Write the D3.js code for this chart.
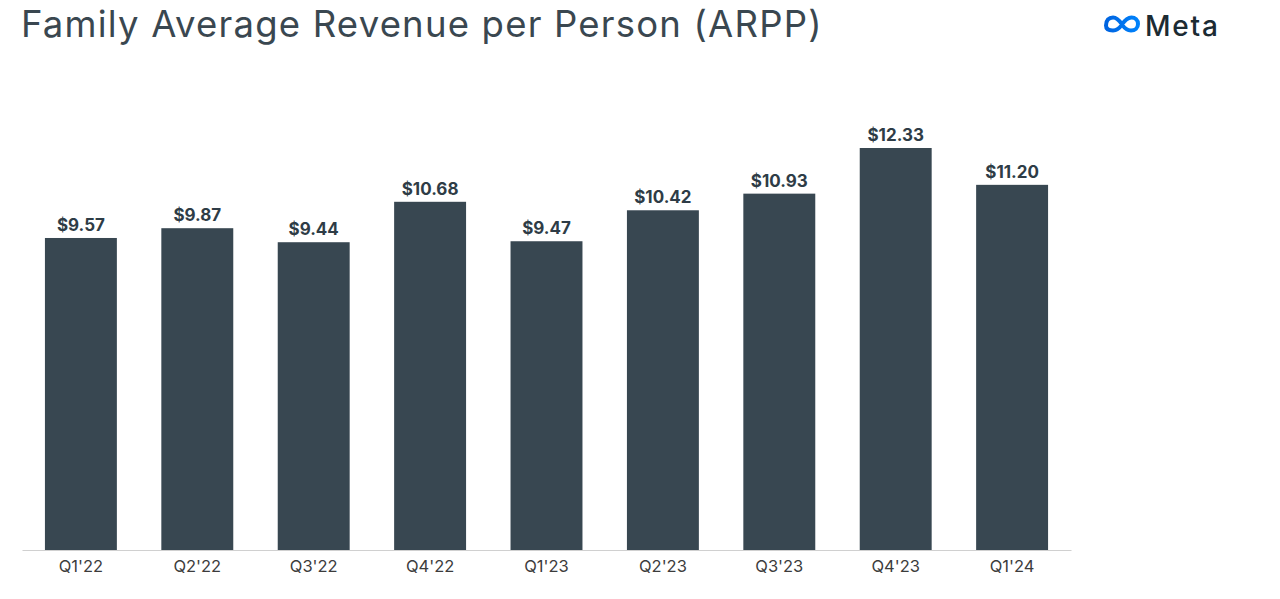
<!DOCTYPE html>
<html>
<head>
<meta charset="utf-8">
<script src="https://cdn.jsdelivr.net/npm/d3@7"></script>
<style>
html,body{margin:0;padding:0;background:#fff;}
svg{display:block;}
</style>
</head>
<body>
<svg id="chart" width="1280" height="599"></svg>
<script>
const categories = ["Q1'22","Q2'22","Q3'22","Q4'22","Q1'23","Q2'23","Q3'23","Q4'23","Q1'24"];
const values = [9.57, 9.87, 9.44, 10.68, 9.47, 10.42, 10.93, 12.33, 11.20];
const valueLabels = ["$9.57","$9.87","$9.44","$10.68","$9.47","$10.42","$10.93","$12.33","$11.20"];
const titleText = "Family Average Revenue per Person (ARPP)";

const svg = d3.select("#chart");
const font = "Inter, 'Open Sans', sans-serif";

// Title
svg.append("text")
  .attr("x", 21).attr("y", 37)
  .attr("font-family", font)
  .attr("font-size", 36.5)
  .attr("letter-spacing", 1.2)
  .attr("fill", "#3a4750")
  .text(titleText);

// Meta logo
const defs = svg.append("defs");
const grad = defs.append("linearGradient").attr("id","mg").attr("x1","0").attr("x2","1").attr("y1","0").attr("y2","0");
grad.append("stop").attr("offset","0%").attr("stop-color","#0064e0");
grad.append("stop").attr("offset","100%").attr("stop-color","#0082fb");
const logo = svg.append("g").attr("transform","translate(1104,15.5)");
logo.append("path")
  .attr("d","M2,10 C2,4.5 5,2 9,2 C13.5,2 16,6 18,9 C20,12 23,15 27,15 C31,15 34,12.5 34,8.5 C34,4.5 31,2 27.5,2 C23,2 20,6 18,9 C16,12 13,15 9,15 C5,15 2,13.5 2,10 Z")
  .attr("fill","none")
  .attr("stroke","url(#mg)")
  .attr("stroke-width",4)
  .attr("stroke-linejoin","round");
svg.append("text")
  .attr("x", 1145).attr("y", 36)
  .attr("font-family", font)
  .attr("font-size", 28)
  .attr("font-weight", 500)
  .attr("letter-spacing", 1.8)
  .attr("fill", "#1c2b33")
  .text("Meta");

// Scales
const baseline = 550;
const x = d3.scaleBand().domain(categories).range([22, 1071]).paddingInner(0.382).paddingOuter(0.197);
const y = d3.scaleLinear().domain([0, 12.33]).range([baseline, 148]);

// Bars
svg.append("g").selectAll("rect").data(values).join("rect")
  .attr("x", (d,i) => x(categories[i]))
  .attr("y", d => y(d))
  .attr("width", x.bandwidth())
  .attr("height", d => baseline - y(d))
  .attr("fill", "#384751");

// Value labels
svg.append("g").selectAll("text").data(values).join("text")
  .attr("x", (d,i) => x(categories[i]) + x.bandwidth()/2)
  .attr("y", d => y(d) - 7)
  .attr("text-anchor","middle")
  .attr("font-family", font)
  .attr("font-size", 17)
  .attr("font-weight", 700)
  .attr("fill", "#2e3c46")
  .text((d,i) => valueLabels[i]);

// X axis
const xAxis = d3.axisBottom(x).tickSize(0).tickPadding(10);
const ax = svg.append("g").attr("transform", `translate(0,${baseline})`).call(xAxis);
ax.select(".domain").attr("stroke","#d0d0d0").attr("stroke-width",1.2);
ax.selectAll("text")
  .attr("font-family", font)
  .attr("font-size", 16.5)
  .attr("fill", "#3c3c3c");
</script>
</body>
</html>
